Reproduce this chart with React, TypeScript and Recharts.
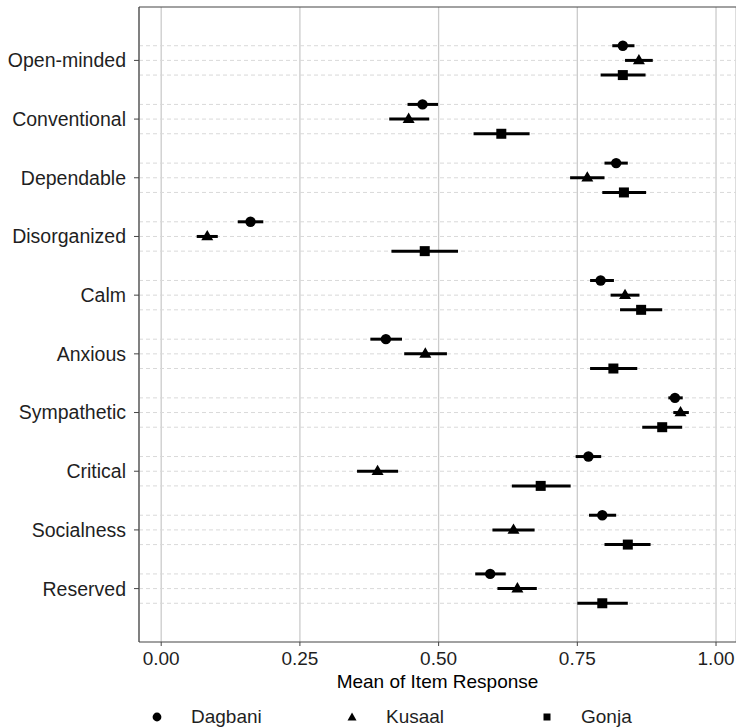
import React from 'react'
import { CartesianGrid, ErrorBar, Legend, ReferenceLine, Scatter, ScatterChart, XAxis, YAxis } from 'recharts';

// categories, top to bottom
const categories = ['Open-minded', 'Conventional', 'Dependable', 'Disorganized', 'Calm', 'Anxious', 'Sympathetic', 'Critical', 'Socialness', 'Reserved'];

const dagbaniMean = [0.832, 0.471, 0.820, 0.161, 0.792, 0.405, 0.926, 0.770, 0.795, 0.593];
const dagbaniLow = [0.813, 0.444, 0.799, 0.138, 0.773, 0.377, 0.914, 0.747, 0.771, 0.566];
const dagbaniHigh = [0.853, 0.499, 0.841, 0.184, 0.816, 0.434, 0.940, 0.793, 0.820, 0.621];

const kusaalMean = [0.861, 0.446, 0.768, 0.083, 0.836, 0.476, 0.936, 0.390, 0.635, 0.642];
const kusaalLow = [0.836, 0.411, 0.737, 0.064, 0.810, 0.438, 0.923, 0.353, 0.597, 0.606];
const kusaalHigh = [0.886, 0.483, 0.799, 0.102, 0.862, 0.515, 0.951, 0.427, 0.673, 0.677];

const gonjaMean = [0.832, 0.613, 0.834, 0.475, 0.865, 0.815, 0.903, 0.684, 0.841, 0.795];
const gonjaLow = [0.792, 0.563, 0.795, 0.415, 0.827, 0.773, 0.867, 0.632, 0.799, 0.750];
const gonjaHigh = [0.873, 0.664, 0.874, 0.535, 0.903, 0.858, 0.939, 0.738, 0.882, 0.841];

const xTicks = [0, 0.25, 0.5, 0.75, 1];

//DODGE OFFSETS FOR THE THREE GROUPS
const DODGE = [-0.25, 0, 0.25];
const Y_DOMAIN = [-0.91, 9.91];
const FONT = '"Liberation Sans", Arial, sans-serif';
const TEXT = '#1f1f1f';

const buildRows = (mean: number[], low: number[], high: number[], offset: number) =>
    mean.map((m, i) => ({ x: m, y: i + offset, err: [m - low[i], high[i] - m] }));

const Circle = ({ cx, cy }: any) => <circle cx={cx} cy={cy} r={5.2} fill="#000" />;
const Triangle = ({ cx, cy }: any) => (
    <polygon points={`${cx},${cy - 6.5} ${cx - 6},${cy + 3.8} ${cx + 6},${cy + 3.8}`} fill="#000" />
);
const Square = ({ cx, cy }: any) => <rect x={cx - 5} y={cy - 5} width={10} height={10} fill="#000" />;

const series = [
    { name: 'Dagbani', rows: buildRows(dagbaniMean, dagbaniLow, dagbaniHigh, DODGE[0]), shape: Circle },
    { name: 'Kusaal', rows: buildRows(kusaalMean, kusaalLow, kusaalHigh, DODGE[1]), shape: Triangle },
    { name: 'Gonja', rows: buildRows(gonjaMean, gonjaLow, gonjaHigh, DODGE[2]), shape: Square },
];

const LegendIcon = ({ name }: { name: string }) => (
    <svg width={12} height={12} style={{ marginRight: 28 }}>
        {name === 'Dagbani' && <circle cx={6} cy={6} r={4.4} fill="#000" />}
        {name === 'Kusaal' && <polygon points="6,1.5 1.5,9.5 10.5,9.5" fill="#000" />}
        {name === 'Gonja' && <rect x={2.5} y={2.5} width={7} height={7} fill="#000" />}
    </svg>
);

const renderLegend = () => (
    <div style={{ display: 'flex', alignItems: 'center', height: 30, boxSizing: 'border-box', paddingTop: 8, paddingLeft: 151, fontFamily: FONT, fontSize: 19, color: TEXT }}>
        {series.map(s => (
            <div key={s.name} style={{ display: 'flex', alignItems: 'center', width: 204 }}>
                <LegendIcon name={s.name} />
                <span>{s.name}</span>
            </div>
        ))}
    </div>
);

export default function App() {
    const dashPositions = categories.flatMap((_, i) => DODGE.map(d => i + d));

    return (
        <div style={{ position: 'absolute', left: 0, top: 0, width: 736, height: 728, background: '#fff' }}>
            <ScatterChart width={736} height={728} margin={{ top: 7, right: 0, bottom: 0, left: 0 }} style={{ fontFamily: FONT }}>
                <CartesianGrid horizontal={false} stroke="#cbcbcb" strokeWidth={1.3} />
                {dashPositions.map(p => (
                    <ReferenceLine key={p} y={p} stroke="#d9d9d9" strokeDasharray="4 3" strokeWidth={1} />
                ))}
                {/* panel top border */}
                <ReferenceLine y={Y_DOMAIN[0]} stroke="#444" strokeWidth={1.2} />
                <XAxis
                    dataKey="x" type="number" domain={[-0.04, 1.036]} allowDataOverflow ticks={xTicks}
                    tickFormatter={(v: number) => v.toFixed(2)} height={56}
                    tick={{ fill: TEXT, fontSize: 19 }} tickSize={4} tickMargin={6}
                    tickLine={{ stroke: '#444' }} axisLine={{ stroke: '#444', strokeWidth: 1.2 }}
                    label={{ value: 'Mean of Item Response', position: 'insideBottom', offset: 10, fill: '#000', fontSize: 19 }}
                />
                <YAxis
                    dataKey="y" type="number" domain={Y_DOMAIN} reversed allowDataOverflow
                    ticks={categories.map((_, i) => i)} interval={0}
                    tickFormatter={(i: number) => categories[i]} width={139}
                    tick={{ fill: TEXT, fontSize: 19.5 }} tickSize={5} tickMargin={8}
                    tickLine={{ stroke: '#444' }} axisLine={{ stroke: '#444', strokeWidth: 1.2 }}
                />
                {series.map(s => (
                    <Scatter key={s.name} name={s.name} data={s.rows} shape={s.shape} isAnimationActive={false}>
                        <ErrorBar dataKey="err" direction="x" width={0} stroke="#000" strokeWidth={3} />
                    </Scatter>
                ))}
                <Legend verticalAlign="bottom" content={renderLegend} wrapperStyle={{ left: 0, width: 736 }} />
            </ScatterChart>
        </div>
    )
}
